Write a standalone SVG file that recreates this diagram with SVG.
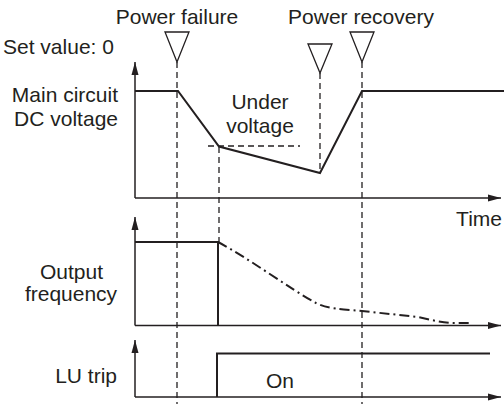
<svg xmlns="http://www.w3.org/2000/svg" width="504" height="404" viewBox="0 0 504 404">
<style>
text{font-family:"Liberation Sans",Arial,sans-serif;font-size:21px;fill:#231f20}
.ax{stroke:#231f20;stroke-width:1.5;fill:none}
.sig{stroke:#231f20;stroke-width:2;fill:none;stroke-linejoin:miter}
.dash{stroke:#231f20;stroke-width:1.3;stroke-dasharray:6,4;fill:none}
.dd{stroke:#231f20;stroke-width:2;stroke-dasharray:10,4,2,4;fill:none}
.tri{stroke:#231f20;stroke-width:1.3;fill:#fff}
</style>
<defs>
<marker id="ah" markerUnits="userSpaceOnUse" markerWidth="14" markerHeight="10" refX="13" refY="5" orient="auto">
<path d="M0,1.5 L13,5 L0,8.5 Z" fill="#231f20"/>
</marker>
</defs>
<rect width="504" height="404" fill="#fff"/>
<g id="labels">
<text x="177" y="24" text-anchor="middle">Power failure</text>
<text x="361" y="24" text-anchor="middle">Power recovery</text>
<text x="3" y="54">Set value: 0</text>
<text x="118" y="102" text-anchor="end">Main circuit</text>
<text x="118" y="126" text-anchor="end">DC voltage</text>
<text x="260" y="109" text-anchor="middle">Under</text>
<text x="260" y="133" text-anchor="middle">voltage</text>
<text x="502" y="226" text-anchor="end">Time</text>
<text x="71.5" y="279" text-anchor="middle">Output</text>
<text x="71" y="301" text-anchor="middle">frequency</text>
<text x="117" y="383" text-anchor="end">LU trip</text>
<text x="280" y="388" text-anchor="middle">On</text>
</g>
<g id="connectors">
<line class="dash" x1="177" y1="62" x2="177" y2="404"/>
<line class="dash" x1="362" y1="62" x2="362" y2="404"/>
<line class="dash" x1="320" y1="73" x2="320" y2="173"/>
<line class="dash" x1="219" y1="147" x2="219" y2="242"/>
<line class="dash" x1="208" y1="146" x2="300" y2="146"/>
</g>
<g id="markers">
<polygon class="tri" points="165,32 189,32 177,62"/>
<polygon class="tri" points="308,44 332,44 320,73"/>
<polygon class="tri" points="350,32 374,32 362,62"/>
</g>
<g id="panel-voltage">
<line class="ax" x1="135" y1="198" x2="135" y2="62" marker-end="url(#ah)"/>
<line class="ax" x1="135" y1="198" x2="501" y2="198" marker-end="url(#ah)"/>
<polyline class="sig" points="135,91 178,91 219,146.5 320,173 362,91 504,91"/>
</g>
<g id="panel-frequency">
<line class="ax" x1="135" y1="325.5" x2="135" y2="217" marker-end="url(#ah)"/>
<line class="ax" x1="135" y1="325.5" x2="501" y2="325.5" marker-end="url(#ah)"/>
<polyline class="sig" points="135,242 218,242 218,325.5"/>
<path class="dd" d="M218,242 C250,259 290,289 316,303 C328,309 340,309 362,311 L418,317 C432,320 443,323 455,323 L470,323"/>
</g>
<g id="panel-lutrip">
<line class="ax" x1="135" y1="397" x2="135" y2="340" marker-end="url(#ah)"/>
<line class="ax" x1="135" y1="397" x2="501" y2="397" marker-end="url(#ah)"/>
<polyline class="sig" points="217,397 217,353.5 490,353.5"/>
</g>
</svg>
